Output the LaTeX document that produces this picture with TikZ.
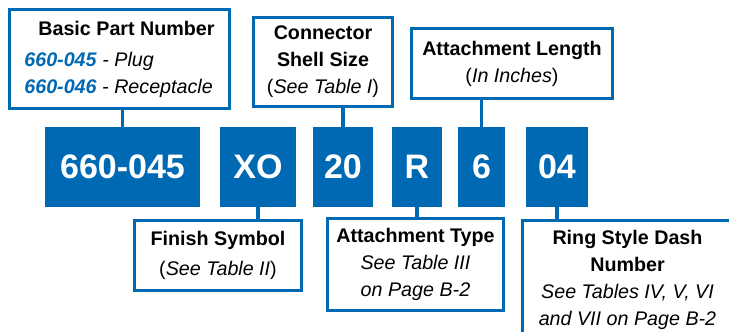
\documentclass[tikz,border=0pt]{standalone}
\usepackage{fontspec}
\setmainfont{Liberation Sans}
\usepackage{xcolor}
\definecolor{partblue}{RGB}{0,105,180}

\begin{document}
\begin{tikzpicture}[x=1pt, y=-1pt,
	codebox/.style={fill=partblue, text=white, inner sep=0pt, minimum height=80pt,
		font=\fontsize{34}{34}\selectfont\bfseries},
	infobox/.style={draw=partblue, line width=3pt, fill=white, inner sep=0pt, align=center,
		font=\fontsize{19.7}{27}\selectfont},
	stem/.style={draw=partblue, line width=3.5pt}]

	\useasboundingbox (0,0) rectangle (729,332);

	% part number fields
	\node[codebox, minimum width=155pt] (pn)   at (122.5,167) {660-045};
	\node[codebox, minimum width=76pt]  (xo)   at (258,167)   {XO};
	\node[codebox, minimum width=60pt]  (sz)   at (343,167)   {20};
	\node[codebox, minimum width=50pt]  (r)    at (417,167)   {R};
	\node[codebox, minimum width=47pt]  (len)  at (481.5,167) {6};
	\node[codebox, minimum width=62pt]  (dash) at (557,167)   {04};

	% upper labels
	\node[infobox, minimum width=220pt, minimum height=99pt, align=left] (basic) at (119.5,59)
		{\hspace*{14pt}\textbf{Basic Part Number}\\[4pt]
		\textcolor{partblue}{\textbf{\textit{660-045}}} \textit{- Plug}\\
		\textcolor{partblue}{\textbf{\textit{660-046}}} \textit{- Receptacle}};
	\node[infobox, minimum width=139pt, minimum height=89pt] (shell) at (323,62)
		{\textbf{Connector}\\ \textbf{Shell Size}\\ (\textit{See Table I})};
	\node[infobox, minimum width=201pt, minimum height=70pt] (length) at (512,63.5)
		{\textbf{Attachment Length}\\ (\textit{In Inches})};

	% lower labels
	\node[infobox, minimum width=167pt, minimum height=70pt] (finish) at (218,255.5)
		{\textbf{Finish Symbol}\\[3pt] (\textit{See Table II})};
	\node[infobox, minimum width=176pt, minimum height=92pt] (atype) at (415.5,264.5)
		{\textbf{Attachment Type}\\ \textit{See Table III}\\ \textit{on Page B-2}};
	\node[infobox, minimum width=210pt, minimum height=119pt] (ring) at (627.5,280)
		{\textbf{Ring Style Dash}\\ \textbf{Number}\\ \textit{See Tables IV, V, VI}\\ \textit{and VII on Page B-2}};

	% stems
	\draw[stem] (pn.north) -- (pn.north |- basic.south);
	\draw[stem] (sz.north) -- (sz.north |- shell.south);
	\draw[stem] (len.north) -- (len.north |- length.south);
	\draw[stem] (xo.south) -- (xo.south |- finish.north);
	\draw[stem] (r.south) -- (r.south |- atype.north);
	\draw[stem] (dash.south) -- (dash.south |- ring.north);

\end{tikzpicture}
\end{document}
